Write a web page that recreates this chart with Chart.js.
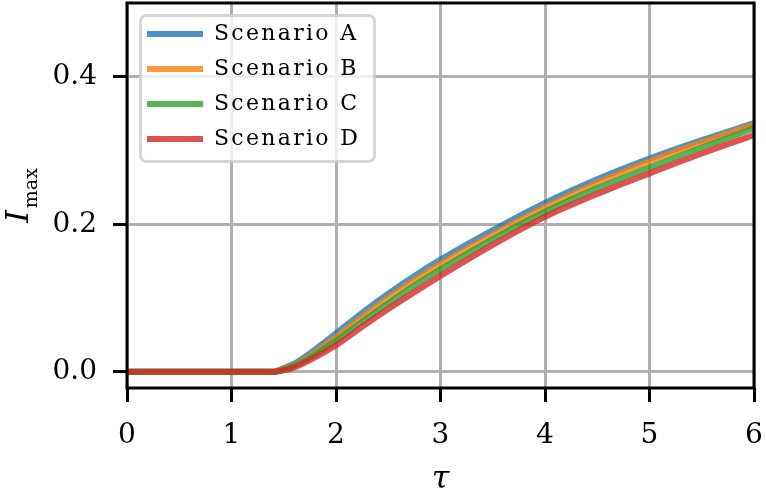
<!DOCTYPE html>
<html>
<head>
<meta charset="utf-8">
<script src="https://cdn.jsdelivr.net/npm/chart.js@4.4.1/dist/chart.umd.min.js"></script>
<style>
  html, body { margin: 0; padding: 0; background: #fff; }
  canvas { display: block; }
</style>
</head>
<body>
<canvas id="chart" width="766" height="500"></canvas>
<script>
// values
const tau = [0, 0.5, 1, 1.3, 1.4, 1.5, 1.6, 1.75, 2, 2.25, 2.5, 2.75, 3, 3.5, 4, 4.5, 5, 5.5, 6];
const scenarioA = [0, 0, 0, 0, 0, 0.005, 0.011, 0.025, 0.052, 0.080, 0.106, 0.130, 0.152, 0.192, 0.229, 0.261, 0.289, 0.314, 0.337];
const scenarioB = [0, 0, 0, 0, 0, 0.004, 0.009, 0.021, 0.047, 0.074, 0.100, 0.124, 0.146, 0.186, 0.223, 0.256, 0.285, 0.311, 0.335];
const scenarioC = [0, 0, 0, 0, 0, 0.003, 0.008, 0.019, 0.042, 0.068, 0.093, 0.117, 0.139, 0.180, 0.217, 0.249, 0.277, 0.304, 0.330];
const scenarioD = [0, 0, 0, 0, 0, 0.002, 0.006, 0.016, 0.036, 0.061, 0.085, 0.108, 0.130, 0.172, 0.210, 0.241, 0.269, 0.296, 0.321];
const seriesLabels = ['Scenario A', 'Scenario B', 'Scenario C', 'Scenario D'];
const xTicks = [0, 1, 2, 3, 4, 5, 6];
const yTicks = [0.0, 0.2, 0.4];

const series = [scenarioA, scenarioB, scenarioC, scenarioD];
const colors = ['rgba(31,119,180,0.8)', 'rgba(255,127,14,0.8)', 'rgba(44,160,44,0.8)', 'rgba(214,39,40,0.8)'];
const serif = '"DejaVu Serif", "Liberation Serif", serif';

// rounded legend frame (drawn under the legend, over the grid)
const legendFrame = {
    id: 'legendFrame',
    afterInit(chart) {
        const legend = chart.legend;
        const baseDraw = legend.draw;
        legend.draw = function (area) {
            const ctx = chart.ctx;
            const a = chart.chartArea;
            const pad = legend.options.labels.padding;
            ctx.save();
            ctx.beginPath();
            ctx.roundRect(a.left + 13.5, a.top + 12.5, 234, 146, 6);
            ctx.fillStyle = 'rgba(255,255,255,0.8)';
            ctx.fill();
            ctx.lineWidth = 3;
            ctx.strokeStyle = 'rgba(204,204,204,0.8)';
            ctx.stroke();
            ctx.translate(a.left + 20 - (legend.left + pad), a.top + 20 - (legend.top + pad));
            ctx.letterSpacing = '2.3px';
            baseDraw.call(legend, area);
            ctx.restore();
        };
    }
};

// axes box on all four sides
const spines = {
    id: 'spines',
    afterDatasetsDraw(chart) {
        const {ctx, chartArea: a} = chart;
        ctx.save();
        ctx.strokeStyle = '#000';
        ctx.lineWidth = 3;
        ctx.strokeRect(a.left, a.top, a.right - a.left, a.bottom - a.top);
        ctx.restore();
    }
};

// y label I_max with a real subscript
const yTitle = {
    id: 'yTitle',
    afterDraw(chart) {
        const {ctx, chartArea: a} = chart;
        ctx.save();
        ctx.font = 'italic 32px ' + serif;
        const wI = ctx.measureText('I').width;
        ctx.font = '19px ' + serif;
        const wSub = ctx.measureText('max').width;
        const total = wI + 2 + wSub;
        ctx.translate(28, (a.top + a.bottom) / 2 + total / 2);
        ctx.rotate(-Math.PI / 2);
        ctx.fillStyle = '#000';
        ctx.textBaseline = 'alphabetic';
        ctx.font = 'italic 32px ' + serif;
        ctx.fillText('I', 0, 0);
        ctx.font = '19px ' + serif;
        ctx.fillText('max', wI + 2, 9);
        ctx.restore();
    }
};

new Chart(document.getElementById('chart'), {
    type: 'line',
    data: {
        datasets: series.map((s, i) => ({
            label: seriesLabels[i],
            data: s.map((v, j) => ({x: tau[j], y: v})),
            borderColor: colors[i],
            backgroundColor: colors[i],
            borderWidth: 6,
            pointRadius: 0,
            fill: false,
            cubicInterpolationMode: 'monotone',
            order: series.length - i
        }))
    },
    options: {
        responsive: false,
        animation: false,
        devicePixelRatio: 1,
        layout: { padding: { left: 0, top: 3, right: 12, bottom: 0 } },
        plugins: {
            legend: {
                position: 'chartArea',
                align: 'start',
                reverse: true,
                labels: {
                    boxWidth: 56,
                    boxHeight: 6,
                    padding: 13,
                    color: '#000',
                    font: { family: serif, size: 22 },
                    generateLabels: chart => Chart.defaults.plugins.legend.labels.generateLabels(chart)
                        .map(item => Object.assign(item, { lineWidth: 0 }))
                }
            },
            tooltip: { enabled: false }
        },
        scales: {
            x: {
                type: 'linear',
                min: xTicks[0],
                max: xTicks[xTicks.length - 1],
                border: { display: false },
                grid: { color: '#b0b0b0', lineWidth: 3, tickColor: '#000', tickLength: 14, tickWidth: 3 },
                ticks: { stepSize: 1, padding: 17, maxRotation: 0, color: '#000', font: { family: serif, size: 28 } },
                title: { display: true, text: 'τ', color: '#000', font: { family: serif, size: 32, style: 'italic' }, padding: { top: 0, bottom: 1 } },
                afterFit: scale => {
                    scale.height = 112;
                    scale.paddingLeft = 0;
                    scale.paddingRight = 0;
                }
            },
            y: {
                min: -0.022,
                max: 0.5,
                border: { display: false },
                grid: { color: '#b0b0b0', lineWidth: 3, tickColor: '#000', tickLength: 14, tickWidth: 3 },
                ticks: {
                    stepSize: yTicks[1] - yTicks[0],
                    includeBounds: false,
                    padding: 16,
                    color: '#000',
                    font: { family: serif, size: 28 },
                    callback: v => Number(v).toFixed(1)
                },
                afterFit: scale => {
                    scale.width = 127;
                    scale.paddingTop = 0;
                    scale.paddingBottom = 0;
                }
            }
        }
    },
    plugins: [legendFrame, spines, yTitle]
});
</script>
</body>
</html>
